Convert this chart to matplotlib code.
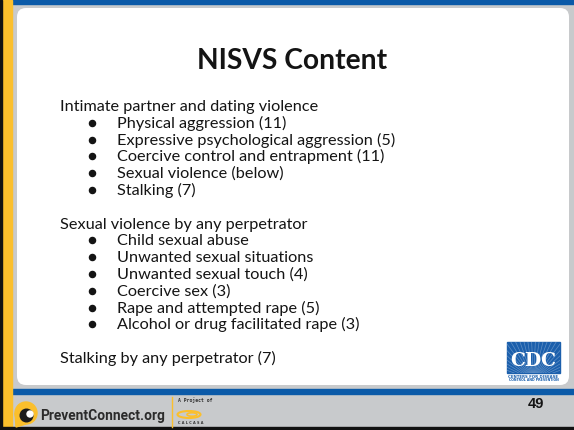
import matplotlib
matplotlib.use("Agg")
import matplotlib.pyplot as plt
from matplotlib.patches import Rectangle, FancyBboxPatch, Circle, Ellipse, Polygon
from matplotlib import font_manager
import numpy as np

# ---- content ----
title = "NISVS Content"
section_headers = ["Intimate partner and dating violence",
                   "Sexual violence by any perpetrator",
                   "Stalking by any perpetrator (7)"]
ipv_items = ["Physical aggression (11)",
             "Expressive psychological aggression (5)",
             "Coercive control and entrapment (11)",
             "Sexual violence (below)",
             "Stalking (7)"]
sv_items = ["Child sexual abuse",
            "Unwanted sexual situations",
            "Unwanted sexual touch (4)",
            "Coercive sex (3)",
            "Rape and attempted rape (5)",
            "Alcohol or drug facilitated rape (3)"]
page_number = "49"
footer_site = "PreventConnect.org"
footer_project = "A Project of"
footer_org = "C A L C A S A"
cdc_text = "CDC"
cdc_sub = ["CENTERS FOR DISEASE", "CONTROL AND PREVENTION"]

# ---- styling ----
W, H = 574, 430
BLUE = "#0b5aa8"
YELLOW = "#fbbf2c"
GRAY = "#c8cacc"
TEXT = "#141414"
FONT = "Lato"
names = {f.name for f in font_manager.fontManager.ttflist}
NARROW = "Liberation Sans Narrow" if "Liberation Sans Narrow" in names else "Roboto"

fig = plt.figure(figsize=(W / 100, H / 100), dpi=100)
ax = fig.add_axes([0, 0, 1, 1])
ax.set_xlim(0, W)
ax.set_ylim(H, 0)
ax.axis("off")
renderer = fig.canvas.get_renderer()

def fit(t, target_w):
    for _ in range(3):
        w = t.get_window_extent(renderer).width
        t.set_fontsize(t.get_fontsize() * target_w / w)
    return t.get_fontsize()

# background frame
ax.add_patch(Rectangle((0, 0), W, H, color=GRAY, zorder=0))
ax.add_patch(Rectangle((0, 0), W, 3.5, color=BLUE, zorder=1))
ax.add_patch(Rectangle((0, 389), W, 5, color=BLUE, zorder=1))
ax.add_patch(Rectangle((0, 427), W, 3, color="#111111", zorder=3))
ax.add_patch(Rectangle((0, 0), 2, H, color="#111111", zorder=3))
ax.add_patch(Rectangle((2, 0), 10, H, color=YELLOW, zorder=2))
ax.add_patch(FancyBboxPatch((17, 8), 552, 377,
                            boxstyle="round,pad=0,rounding_size=9",
                            facecolor="white", edgecolor="none", zorder=2))

# title
tt = ax.text(292, 69, title, ha="center", va="baseline", fontsize=24,
             fontweight="bold", family=FONT, color=TEXT, zorder=5)
fit(tt, 190)

# body text
x_head, x_bullet, x_item = 60, 92, 117
base0, lh = 111, 16.8
probe = ax.text(x_head, base0, section_headers[0], ha="left", va="baseline",
                fontsize=12, family=FONT, color=TEXT, zorder=5)
body_fs = fit(probe, 258)
probe.remove()

def line(k, s, bullet=False):
    y = base0 + lh * k
    x = x_item if bullet else x_head
    if bullet:
        ax.plot([x_bullet], [y - 5.0], marker="o", markersize=4.4,
                color=TEXT, linestyle="none", zorder=5)
    ax.text(x, y, s, ha="left", va="baseline", fontsize=body_fs,
            family=FONT, color=TEXT, zorder=5)

k = 0
line(k, section_headers[0]); k += 1
for it in ipv_items:
    line(k, it, True); k += 1
k += 1
line(k, section_headers[1]); k += 1
for it in sv_items:
    line(k, it, True); k += 1
k += 1
line(k, section_headers[2])

# CDC logo
logo = Rectangle((507, 342), 53, 31, color="#1b5fac", zorder=4)
ax.add_patch(logo)
cx, cy = 533.5, 380
for ang in np.linspace(20, 160, 26):
    r = 70
    ln, = ax.plot([cx, cx + r * np.cos(np.radians(ang))],
                  [cy, cy - r * np.sin(np.radians(ang))],
                  color="white", alpha=0.3, lw=0.5, zorder=5)
    ln.set_clip_path(logo)
ct = ax.text(533.5, 366.5, cdc_text, ha="center", va="baseline", fontsize=20,
             fontweight="bold", family="DejaVu Serif", color="white", zorder=6)
fit(ct, 46)
for i, s in enumerate(cdc_sub):
    st = ax.text(533.5, 376.5 + 3.3 * i, s, ha="center", va="center", fontsize=3,
                 family="DejaVu Sans", fontweight="bold", color="#1b5fac", zorder=6)
    fit(st, 50)

# page number
ax.text(535.5, 407.5, page_number, ha="center", va="baseline", fontsize=10.5,
        fontweight="bold", family="Liberation Sans", color=TEXT, zorder=5)

# PreventConnect logo
ax.add_patch(Circle((26, 413), 11, color=YELLOW, zorder=5))
ax.add_patch(Polygon([[15, 413], [26, 424], [16, 427]], closed=True,
                     color=YELLOW, zorder=5))
ax.add_patch(Circle((26.5, 415.5), 6.3, color="#1b1b1b", zorder=6))
ax.add_patch(Circle((30, 414), 3.0, color="white", zorder=7))
pt = ax.text(40, 420, footer_site, ha="left", va="baseline", fontsize=12.5,
             fontweight="bold", family=NARROW, color="#2b2b2b", zorder=5)
fit(pt, 125)
ax.plot([172, 172], [397, 427], color=YELLOW, lw=1, zorder=5)
a1 = ax.text(178, 400.5, footer_project, ha="left", va="center", fontsize=3.6,
             family="DejaVu Sans Mono", fontweight="bold", color="#333333", zorder=5)
fit(a1, 34)
ax.add_patch(Ellipse((189, 414.5), 23, 7, fill=False, ec=YELLOW, lw=1.5, zorder=5))
ax.add_patch(Ellipse((192, 414.5), 10, 3.5, fill=False, ec=YELLOW, lw=1.2, zorder=5))
a2 = ax.text(178, 423.5, footer_org, ha="left", va="center", fontsize=3.6,
             family="DejaVu Sans", fontweight="bold", color="#333333", zorder=5)
fit(a2, 25)

fig.savefig("out.png", dpi=100)
